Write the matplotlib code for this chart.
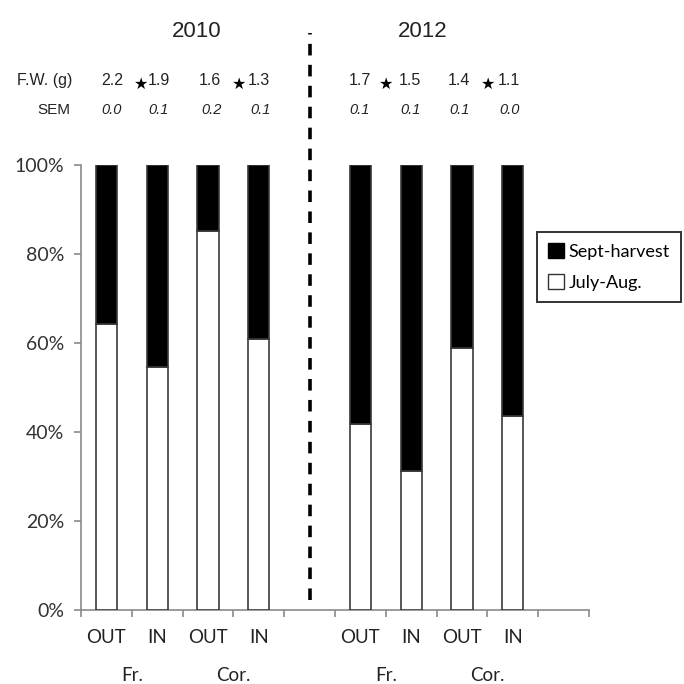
import matplotlib
matplotlib.use("Agg")
import matplotlib.pyplot as plt
from matplotlib.patches import Patch
from matplotlib.ticker import FixedLocator, FuncFormatter

# Share of fruit harvested in each period (%), per site/location
years = ["2010", "2012"]
sites = ["Fr.", "Cor.", "Fr.", "Cor."]
positions = ["OUT", "IN", "OUT", "IN", "OUT", "IN", "OUT", "IN"]
july_aug = [64.3, 54.6, 85.2, 60.9, 41.8, 31.2, 58.9, 43.6]
sept_harvest = [100 - v for v in july_aug]

# Fresh weight (g) and SEM printed above each bar
fresh_weight = ["2.2", "1.9", "1.6", "1.3", "1.7", "1.5", "1.4", "1.1"]
sem = ["0.0", "0.1", "0.2", "0.1", "0.1", "0.1", "0.1", "0.0"]

# bar slots: 4 bars, an empty slot, 4 bars, an empty slot
slots = [0, 1, 2, 3, 5, 6, 7, 8]
x = [s + 0.5 for s in slots]

fig = plt.figure(figsize=(6.84, 6.84), dpi=100)
ax = fig.add_axes([81 / 684, 74 / 684, 508 / 684, 445 / 684])

tick_font = "Lato"
edge = "#3a3a3a"
width = 0.42

ax.bar(x, [v / 100 for v in july_aug], width, color="white", edgecolor=edge, linewidth=1.2, zorder=3)
ax.bar(x, [v / 100 for v in sept_harvest], width, bottom=[v / 100 for v in july_aug],
       color="black", edgecolor=edge, linewidth=1.2, zorder=3)

ax.set_xlim(0, 10)
ax.set_ylim(0, 1)
for side in ("top", "right"):
    ax.spines[side].set_visible(False)
for side in ("left", "bottom"):
    ax.spines[side].set_color("#8a8a8a")
    ax.spines[side].set_linewidth(1.2)

ax.yaxis.set_major_locator(FixedLocator([0, 0.2, 0.4, 0.6, 0.8, 1.0]))
ax.yaxis.set_major_formatter(FuncFormatter(lambda v, p: f"{v * 100:.0f}%"))
ax.tick_params(axis="y", length=5, width=1.2, color="#8a8a8a", pad=7,
               labelsize=14, labelcolor="#333333")
for lab in ax.get_yticklabels():
    lab.set_fontfamily(tick_font)

ax.set_xticks(range(11))
ax.set_xticklabels([])
ax.tick_params(axis="x", length=5, width=1.2, color="#8a8a8a")

# position labels under each bar and site labels under each pair
for xi, p in zip(x, positions):
    ax.text(xi, -0.061, p, transform=ax.get_xaxis_transform(), ha="center", va="center",
            fontsize=13.5, family=tick_font, color="#222222")
for i, s in enumerate(sites):
    mid = (x[2 * i] + x[2 * i + 1]) / 2
    ax.text(mid, -0.148, s, transform=ax.get_xaxis_transform(), ha="center", va="center",
            fontsize=13.5, family=tick_font, color="#222222")

# year separator
ax.axvline(4.5, ymin=0.022, ymax=1.297, color="black", linewidth=2.6,
           linestyle=(0, (3.2, 2.6)), clip_on=False, zorder=4)

tr = ax.get_xaxis_transform()
arial = "Liberation Sans"

ax.text(2.28, 1.301, years[0], transform=tr, ha="center", va="center", fontsize=16, family=arial, color="#222222")
ax.text(6.73, 1.301, years[1], transform=tr, ha="center", va="center", fontsize=16, family=arial, color="#222222")

ax.text(-0.71, 1.191, "F.W. (g)", transform=tr, ha="center", va="center", fontsize=11.5, family=arial, color="#222222")
ax.text(-0.53, 1.124, "SEM", transform=tr, ha="center", va="center", fontsize=11, family=arial, color="#222222")

fw_x = [0.61, 1.54, 2.54, 3.50, 5.49, 6.48, 7.44, 8.43]
sem_x = [0.61, 1.52, 2.56, 3.54, 5.49, 6.48, 7.46, 8.44]
for xi, t in zip(fw_x, fresh_weight):
    ax.text(xi, 1.191, t, transform=tr, ha="center", va="center", fontsize=11.5, family=arial, color="#222222")
for xi, t in zip(sem_x, sem):
    ax.text(xi, 1.124, t, transform=tr, ha="center", va="center", fontsize=10.5, family=arial,
            style="italic", color="#222222")

# significance stars between paired fresh weights
for xi in [1.18, 3.11, 6.0, 8.01]:
    ax.text(xi, 1.182, "\u2605", transform=tr, ha="center", va="center", fontsize=11.5,
            family="DejaVu Sans", color="black")

handles = [Patch(facecolor="black", edgecolor="black", label="Sept-harvest"),
           Patch(facecolor="white", edgecolor="#333333", label="July-Aug.")]
leg = fig.legend(handles=handles, loc="upper left", bbox_to_anchor=(537 / 684, 1 - 232 / 684),
                 frameon=True, fancybox=False, handlelength=0.9, handleheight=0.9,
                 handletextpad=0.25, borderpad=0.6, borderaxespad=0, labelspacing=0.8,
                 prop={"family": tick_font, "size": 13})
leg.get_frame().set_edgecolor("black")
leg.get_frame().set_linewidth(1.4)

fig.savefig("out.png", dpi=100, facecolor="white")
